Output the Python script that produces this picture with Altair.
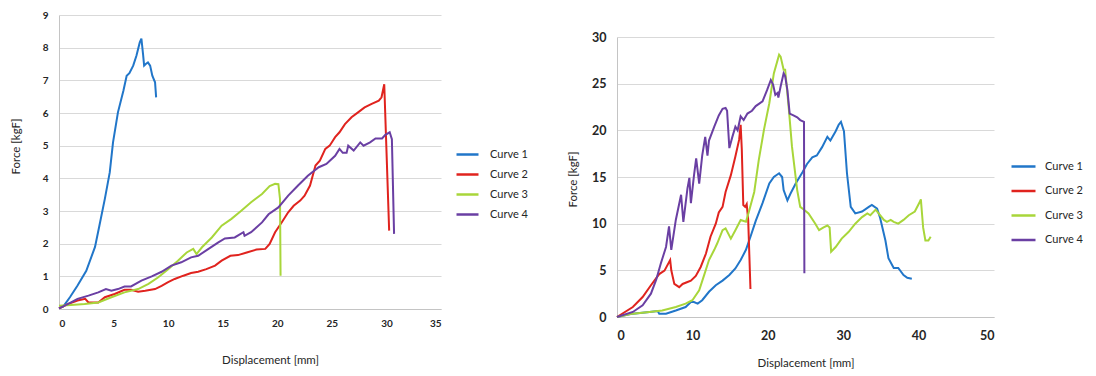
import altair as alt
import pandas as pd

curves = ["Curve 1", "Curve 2", "Curve 3", "Curve 4"]
colors = ["#2176C9", "#E0231E", "#A8D63A", "#6A3FA3"]

# ---------- left panel ----------
l1_x = [0, 0.4, 1.0, 1.7, 2.5, 3.3, 3.7, 4.2, 4.65, 4.95, 5.4, 5.9, 6.2, 6.45, 6.8, 7.1, 7.4, 7.55, 7.7, 7.8,
        7.95, 8.15, 8.35, 8.55, 8.8, 8.9]
l1_y = [0.02, 0.08, 0.36, 0.72, 1.17, 1.9, 2.55, 3.37, 4.18, 5.1, 6.02, 6.68, 7.14, 7.22, 7.45, 7.76, 8.16, 8.28,
        7.8, 7.45, 7.5, 7.55, 7.45, 7.14, 6.94, 6.48]
l2_x = [0, 0.8, 1.7, 2.4, 2.7, 3.6, 4.2, 5.1, 6.0, 6.6, 7.25, 7.9, 8.8, 9.4, 10.0, 10.6, 11.4, 12.1, 12.75, 13.5,
        14.3, 14.9, 15.7, 16.4, 17.2, 18.1, 18.9, 19.3, 19.8, 20.4, 21.0, 21.5, 22.1, 22.5, 23.0, 23.5, 23.9, 24.4,
        24.8, 25.3, 25.7, 26.2, 26.8, 27.4, 28.0, 28.65, 29.3, 29.55, 29.8, 30.25]
l2_y = [0.02, 0.15, 0.26, 0.31, 0.2, 0.2, 0.36, 0.46, 0.59, 0.59, 0.53, 0.56, 0.61, 0.71, 0.82, 0.92, 1.02, 1.1,
        1.14, 1.22, 1.33, 1.48, 1.63, 1.65, 1.73, 1.82, 1.84, 1.99, 2.35, 2.65, 2.96, 3.16, 3.32, 3.47, 3.78, 4.39,
        4.54, 4.9, 5.0, 5.26, 5.41, 5.66, 5.87, 6.02, 6.17, 6.28, 6.38, 6.48, 6.88, 2.4]
l3_x = [0, 1.1, 2.35, 3.6, 4.8, 6.0, 7.25, 8.2, 9.1, 10.0, 10.9, 11.7, 12.3, 12.6, 13.1, 14.0, 14.9, 15.8, 16.7,
        17.6, 18.6, 19.3, 19.8, 20.1, 20.25, 20.3]
l3_y = [0.1, 0.12, 0.15, 0.2, 0.36, 0.51, 0.61, 0.77, 0.97, 1.22, 1.48, 1.73, 1.84, 1.68, 1.89, 2.19, 2.55, 2.76,
        3.01, 3.27, 3.52, 3.76, 3.83, 3.82, 3.37, 1.02]
l4_x = [0, 0.8, 1.7, 2.7, 3.6, 4.3, 4.8, 5.4, 6.0, 6.6, 7.55, 8.5, 9.4, 10.3, 11.2, 12.1, 12.75, 13.7, 14.6, 15.2,
        16.1, 16.9, 17.0, 17.6, 18.6, 19.2, 20.1, 21.0, 21.9, 22.8, 23.8, 24.5, 25.3, 25.7, 26.0, 26.35, 26.5, 27.0,
        27.6, 27.9, 28.5, 29.0, 29.6, 29.9, 30.3, 30.5, 30.7]
l4_y = [0.02, 0.15, 0.31, 0.41, 0.51, 0.61, 0.56, 0.61, 0.69, 0.69, 0.87, 1.0, 1.14, 1.33, 1.43, 1.58, 1.63, 1.84,
        2.04, 2.16, 2.19, 2.35, 2.24, 2.35, 2.65, 2.9, 3.11, 3.47, 3.78, 4.08, 4.34, 4.44, 4.69, 4.9, 4.78, 4.78,
        5.0, 4.85, 5.1, 5.0, 5.1, 5.22, 5.22, 5.33, 5.41, 5.2, 2.3]

# ---------- right panel ----------
r1_x = [0, 2.1, 4.3, 5.4, 5.6, 6.5, 7.8, 9.1, 9.8, 10.2, 10.7, 11.3, 12.2, 13.1, 14.0, 14.9, 15.7, 16.4, 17.1, 17.7,
        18.4, 19.3, 20.2, 20.8, 21.5, 21.9, 22.1, 22.6, 23.0, 23.7, 24.6, 25.2, 25.9, 26.5, 27.2, 27.9, 28.3, 29.0,
        29.4, 29.7, 30.1, 30.5, 31.0, 31.6, 32.5, 33.4, 33.8, 34.5, 34.9, 35.6, 36.0, 36.7, 37.3, 38.0, 38.5, 39.1]
r1_y = [0, 0.36, 0.54, 0.64, 0.36, 0.36, 0.7, 1.07, 1.6, 1.6, 1.43, 1.8, 2.7, 3.4, 3.9, 4.5, 5.2, 6.1, 7.2, 8.6,
        10.3, 12.2, 14.3, 15.0, 15.4, 15.0, 13.6, 12.5, 13.2, 14.3, 15.5, 16.4, 17.1, 17.3, 18.2, 19.3, 18.9, 19.9,
        20.6, 20.9, 19.9, 15.4, 11.8, 11.1, 11.3, 11.8, 12.0, 11.6, 10.6, 8.2, 6.3, 5.25, 5.25, 4.5, 4.2, 4.1]
r2_x = [0, 2.1, 3.4, 4.5, 5.6, 6.3, 7.05, 7.2, 7.6, 8.25, 8.7, 9.35, 9.8, 10.45, 11.1, 11.8, 12.4, 13.1, 13.5, 14.0,
        14.4, 15.1, 15.7, 16.2, 16.4, 16.55, 16.75, 17.0, 17.2, 17.4, 17.7]
r2_y = [0, 1.07, 2.14, 3.4, 4.6, 4.97, 6.1, 5.0, 3.54, 3.2, 3.54, 3.75, 3.9, 4.4, 5.36, 6.8, 8.6, 10.0, 11.2, 11.8,
        13.4, 15.2, 17.2, 19.0, 20.6, 18.0, 12.0, 11.8, 12.1, 10.4, 3.0]
r3_x = [0, 2.1, 4.3, 6.0, 7.8, 9.1, 10.0, 10.9, 11.6, 12.2, 12.9, 13.3, 14.0, 14.4, 15.1, 15.7, 16.4, 17.1, 17.5,
        18.2, 18.8, 19.5, 20.2, 20.8, 21.5, 21.7, 22.1, 22.3, 22.8, 23.2, 23.9, 24.3, 24.8, 25.4, 26.3, 26.8, 27.4,
        27.9, 28.2, 28.4, 29.0, 29.8, 30.7, 31.6, 32.5, 33.2, 33.6, 34.3, 34.7, 35.4, 35.8, 36.3, 36.7, 37.3, 38.0,
        38.7, 39.5, 40.2, 40.3, 40.6, 40.9, 41.3, 41.6]
r3_y = [0, 0.36, 0.54, 0.7, 1.07, 1.43, 1.8, 2.86, 4.6, 6.1, 7.2, 7.9, 9.3, 9.5, 8.4, 9.3, 10.4, 10.2, 11.3, 13.4,
        16.8, 20.1, 22.9, 26.1, 28.1, 27.9, 26.5, 26.5, 22.2, 18.3, 13.6, 11.8, 11.5, 11.1, 10.0, 9.3, 9.6, 9.8,
        9.6, 7.0, 7.5, 8.4, 9.1, 10.0, 10.7, 11.1, 10.9, 11.5, 11.1, 10.4, 10.2, 10.4, 10.2, 10.0, 10.4, 10.9, 11.3,
        12.4, 12.6, 9.6, 8.2, 8.2, 8.6]
r4_x = [0, 2.1, 3.4, 4.5, 5.2, 5.8, 6.5, 6.9, 7.2, 7.8, 8.5, 8.8, 9.35, 9.6, 9.8, 10.2, 10.5, 10.9, 11.3, 11.7, 12.0,
        12.2, 12.9, 13.5, 14.0, 14.4, 14.6, 14.9, 15.3, 15.7, 16.0, 16.4, 16.8, 17.3, 17.9, 18.4, 19.3, 19.9, 20.4,
        20.7, 21.0, 21.3, 21.4, 21.7, 22.1, 22.3, 22.6, 22.9, 23.4, 23.9, 24.3, 24.8, 24.85]
r4_y = [0, 0.54, 1.25, 2.5, 4.0, 5.7, 7.5, 9.7, 7.2, 10.4, 13.1, 10.2, 13.8, 14.9, 12.2, 15.1, 17.0, 14.3, 17.3,
        19.3, 17.3, 18.9, 20.4, 21.6, 22.3, 22.4, 22.1, 18.1, 19.3, 20.4, 20.0, 21.5, 21.1, 21.8, 22.1, 22.6, 23.1,
        24.3, 25.4, 24.9, 23.8, 24.0, 23.5, 24.7, 26.1, 25.8, 24.3, 21.8, 21.6, 21.4, 21.1, 20.9, 4.7]

left_x_ticks = [0, 5, 10, 15, 20, 25, 30, 35]
left_y_ticks = [0, 1, 2, 3, 4, 5, 6, 7, 8, 9]
right_x_ticks = [0, 10, 20, 30, 40, 50]
right_y_ticks = [0, 5, 10, 15, 20, 25, 30]

FONT = "Lato"


def frame(series):
    rows = []
    for name, (xs, ys) in zip(curves, series):
        for i, (x, y) in enumerate(zip(xs, ys)):
            rows.append({"curve": name, "i": i, "x": x, "y": y})
    return pd.DataFrame(rows)


def panel(df, xt, yt, w, h, xcfg, ycfg, lcfg, fs):
    base = dict(grid=False, ticks=False, domainColor="#C4C4C4", labelFont=FONT, labelFontWeight="bold",
                labelColor="#262626", labelFontSize=fs, titleFont=FONT, titleFontSize=11.5,
                titleColor="#262626", titleFontWeight="normal")
    xa = dict(base); xa.update(xcfg)
    ya = dict(base); ya.update(ycfg)
    ya.update(grid=True, gridColor="#D9D9D9", gridWidth=1, domain=True)
    return alt.Chart(df).mark_line(strokeWidth=2).encode(
        x=alt.X("x:Q", title="Displacement [mm]",
                scale=alt.Scale(domain=[xt[0], xt[-1]], nice=False),
                axis=alt.Axis(values=xt, **xa)),
        y=alt.Y("y:Q", title="Force [kgF]",
                scale=alt.Scale(domain=[yt[0], yt[-1]], nice=False),
                axis=alt.Axis(values=yt, **ya)),
        color=alt.Color("curve:N", scale=alt.Scale(domain=curves, range=colors),
                        legend=alt.Legend(title=None, orient="none", symbolType="stroke",
                                          symbolStrokeWidth=2.5, labelFont=FONT, labelColor="#262626",
                                          padding=0, **lcfg)),
        order="i:Q",
    ).properties(width=w, height=h)


left = panel(frame([(l1_x, l1_y), (l2_x, l2_y), (l3_x, l3_y), (l4_x, l4_y)]),
             left_x_ticks, left_y_ticks, 382, 294,
             dict(labelPadding=9, titlePadding=26, titleX=211),
             dict(labelPadding=11, titlePadding=21, titleY=131),
             dict(legendX=396, legendY=127, symbolSize=484, labelOffset=10, rowPadding=2, labelFontSize=11), 10)

right = panel(frame([(r1_x, r1_y), (r2_x, r2_y), (r3_x, r3_y), (r4_x, r4_y)]),
              right_x_ticks, right_y_ticks, 377, 280,
              dict(labelPadding=12, titlePadding=16),
              dict(labelPadding=11, titlePadding=13, titleY=142),
              dict(legendX=393, legendY=138, symbolSize=576, labelOffset=8, rowPadding=5.5, labelFontSize=11), 12.5)

spacer = alt.Chart(pd.DataFrame({"v": [0]})).mark_point(opacity=0, size=1).encode(
    x=alt.value(0), y=alt.value(0)).properties(width=1, height=1)

right_col = alt.vconcat(spacer, right, spacing=15)

chart = alt.hconcat(left, right_col, spacing=39).resolve_scale(color="independent").properties(
    padding={"left": 2, "top": 2, "right": 0, "bottom": 0}
).configure_view(stroke=None)

chart.save("out.html", embed_options={"renderer": "svg", "actions": False})
